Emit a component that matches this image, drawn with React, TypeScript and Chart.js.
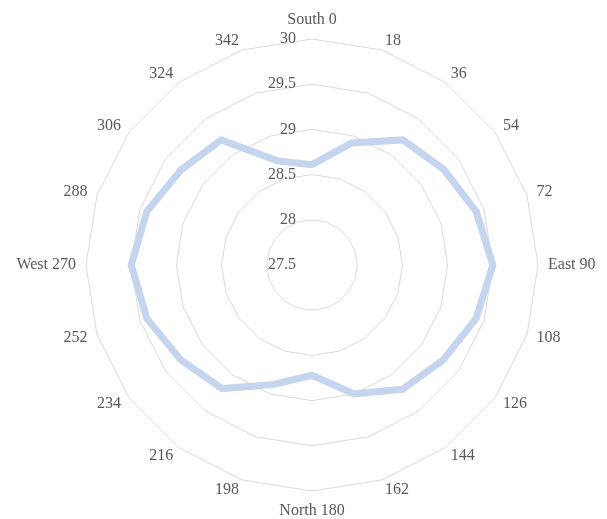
import React, { useEffect, useRef } from "react";
import { Chart, registerables } from "chart.js";

Chart.register(...registerables);

const categories = [
  "South 0", "18", "36", "54", "72", "East 90", "108", "126", "144", "162",
  "North 180", "198", "216", "234", "252", "West 270", "288", "306", "324", "342",
];

const seriesValues = [
  28.61, 28.92, 29.21, 29.3, 29.41, 29.5, 29.41, 29.29, 29.2, 29.0,
  28.72, 28.89, 29.19, 29.29, 29.42, 29.5, 29.42, 29.29, 29.21, 28.71,
];

const tickValues = [27.5, 28, 28.5, 29, 29.5, 30];
const tickLabels = ["27.5", "28", "28.5", "29", "29.5", "30"];

const FONT = "'Liberation Serif', 'Times New Roman', serif";
const TEXT = "#595959";

const labelPlugin = {
  id: "labelPlugin",
  afterDraw(chart: any) {
    const scale = chart.scales.r;
    const ctx = chart.ctx;
    ctx.save();
    ctx.font = `16px ${FONT}`;
    ctx.fillStyle = TEXT;
    // value (tick) labels, left of the vertical axis
    ctx.textAlign = "right";
    ctx.textBaseline = "middle";
    tickValues.forEach((v, i) => {
      const d = scale.getDistanceFromCenterForValue(v);
      ctx.fillText(tickLabels[i], scale.xCenter - 16, scale.yCenter - d);
    });
    // category labels around the outside
    const n = categories.length;
    categories.forEach((label, i) => {
      const p = scale.getPointPosition(i, scale.drawingArea + 10);
      const angle = (i * 360) / n;
      if (angle === 0) {
        ctx.textAlign = "center";
        ctx.textBaseline = "middle";
        ctx.fillText(label, p.x, p.y - 9.6);
      } else if (angle === 180) {
        ctx.textAlign = "center";
        ctx.textBaseline = "middle";
        ctx.fillText(label, p.x, p.y + 9.6);
      } else {
        ctx.textAlign = angle < 180 ? "left" : "right";
        ctx.textBaseline = "middle";
        ctx.fillText(label, p.x, p.y);
      }
    });
    ctx.restore();
  },
};

export default function App() {
  const ref = useRef<HTMLCanvasElement | null>(null);
  useEffect(() => {
    document.body.style.margin = "0";
    const chart = new Chart(ref.current as HTMLCanvasElement, {
      type: "radar",
      data: {
        labels: categories,
        datasets: [
          {
            data: seriesValues,
            borderColor: "#c5d5ef",
            borderWidth: 7,
            borderJoinStyle: "miter",
            fill: false,
            pointRadius: 0,
            pointHoverRadius: 0,
            tension: 0,
          },
        ],
      },
      options: {
        responsive: false,
        animation: false,
        layout: { padding: { top: 39, bottom: 28, left: 86, right: 69 } },
        plugins: { legend: { display: false }, tooltip: { enabled: false } },
        scales: {
          r: {
            min: 27.5,
            max: 30,
            ticks: { display: false, stepSize: 0.5 },
            grid: { color: "#d9d9d9", lineWidth: 1 },
            angleLines: { display: false },
            pointLabels: { display: false },
          },
        },
      },
      plugins: [labelPlugin],
    });
    return () => chart.destroy();
  }, []);
  return (
    <div style={{ width: 607, height: 519 }}>
      <canvas ref={ref} width={607} height={519} />
    </div>
  );
}
